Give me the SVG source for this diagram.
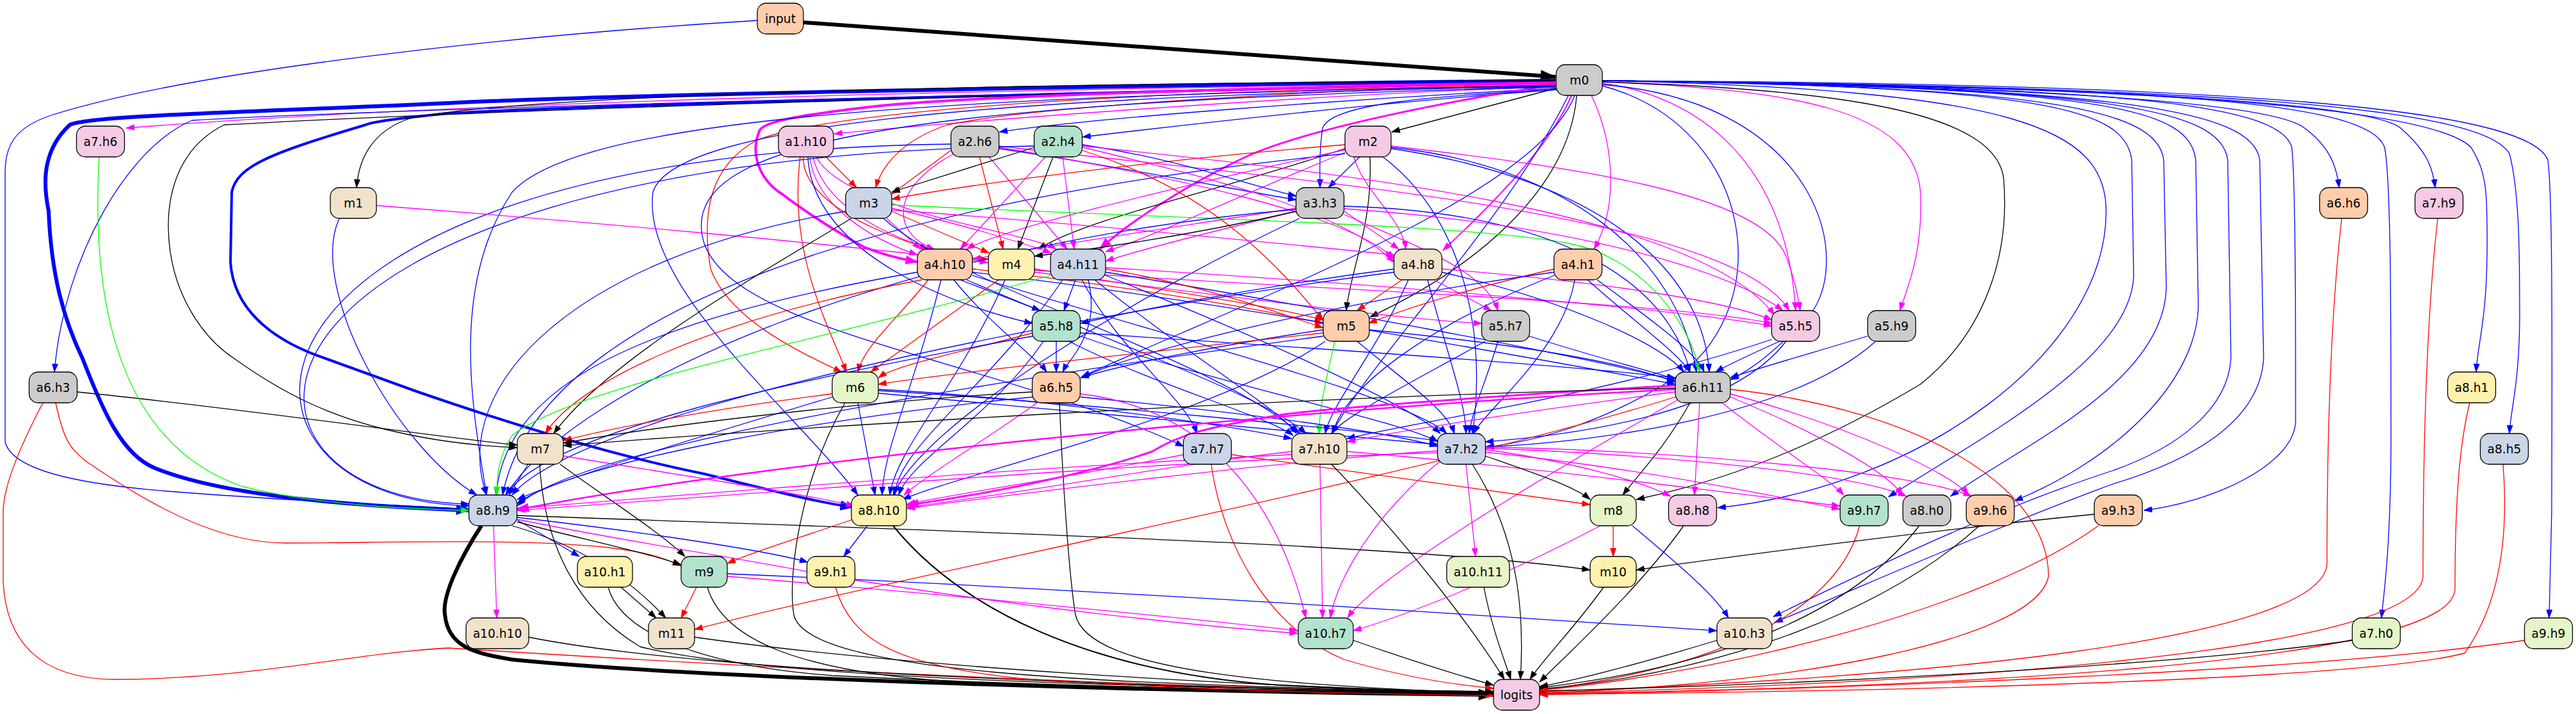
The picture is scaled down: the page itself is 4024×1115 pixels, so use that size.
<svg xmlns="http://www.w3.org/2000/svg" width="4024" height="1115" viewBox="0 0 4024 1115">
<defs>
<style>
.e path{fill:none;stroke-width:1.3}
.b{stroke:#0000ff;marker-end:url(#ab)}
.r{stroke:#ff0000;marker-end:url(#ar)}
.m{stroke:#ff00ff;marker-end:url(#am)}
.g{stroke:#00ff00;marker-end:url(#ag)}
.k{stroke:#000000;marker-end:url(#ak)}
.n rect{stroke:#000;stroke-width:1.3}
.n text{font-family:"DejaVu Sans","Liberation Sans",sans-serif;font-size:18.67px;text-anchor:middle;fill:#000}
.c1{fill:#b3e2cd}.c2{fill:#fdcdac}.c3{fill:#cbd5e8}.c4{fill:#f4cae4}.c5{fill:#e6f5c9}.c6{fill:#fff2ae}.c7{fill:#f1e2cc}.c8{fill:#cccccc}
</style>
<marker id="ab" viewBox="0 0 14 10" refX="13" refY="5" markerWidth="14" markerHeight="10" markerUnits="userSpaceOnUse" orient="auto"><path d="M0,0L14,5L0,10z" fill="#0000ff"/></marker>
<marker id="ar" viewBox="0 0 14 10" refX="13" refY="5" markerWidth="14" markerHeight="10" markerUnits="userSpaceOnUse" orient="auto"><path d="M0,0L14,5L0,10z" fill="#ff0000"/></marker>
<marker id="am" viewBox="0 0 14 10" refX="13" refY="5" markerWidth="14" markerHeight="10" markerUnits="userSpaceOnUse" orient="auto"><path d="M0,0L14,5L0,10z" fill="#ff00ff"/></marker>
<marker id="ag" viewBox="0 0 14 10" refX="13" refY="5" markerWidth="14" markerHeight="10" markerUnits="userSpaceOnUse" orient="auto"><path d="M0,0L14,5L0,10z" fill="#00ff00"/></marker>
<marker id="ak" viewBox="0 0 14 10" refX="13" refY="5" markerWidth="14" markerHeight="10" markerUnits="userSpaceOnUse" orient="auto"><path d="M0,0L14,5L0,10z" fill="#000000"/></marker>
<marker id="abL" viewBox="0 0 14 10" refX="13" refY="5" markerWidth="22" markerHeight="16" markerUnits="userSpaceOnUse" orient="auto"><path d="M0,0L14,5L0,10z" fill="#0000ff"/></marker>
<marker id="amL" viewBox="0 0 14 10" refX="13" refY="5" markerWidth="20" markerHeight="14" markerUnits="userSpaceOnUse" orient="auto"><path d="M0,0L14,5L0,10z" fill="#ff00ff"/></marker>
<marker id="akL" viewBox="0 0 14 10" refX="13" refY="5" markerWidth="26" markerHeight="18" markerUnits="userSpaceOnUse" orient="auto"><path d="M0,0L14,5L0,10z" fill="#000000"/></marker>
</defs>
<rect width="4024" height="1115" fill="#ffffff"/>
<g id="edges" class="e">
<!-- input -->
<path class="k" style="stroke-width:6;marker-end:url(#akL)" d="M1255,35 L2430,120"/>
<path class="b" d="M1183,32 C800,55 300,110 80,180 C20,200 8,230 8,270 L8,690 C20,740 150,760 300,770 C500,785 650,790 733,795"/>
<!-- m0 left bundle -->
<path class="b" style="stroke-width:6;marker-end:url(#abL)" d="M2430,126 C1600,135 900,150 700,161 C400,175 140,180 109,195 C60,240 70,300 76,330 C80,430 100,500 129,560 C160,640 190,710 242,731 C350,775 550,790 733,797"/>
<path class="b" style="stroke-width:4;marker-end:url(#abL)" d="M2430,128 C1500,150 900,165 700,177 C620,185 580,190 571,195 C420,240 370,260 362,300 L360,410 C365,480 420,530 509,560 L650,611 C850,680 1000,720 1100,740 C1200,765 1280,785 1333,792"/>
<path class="m" d="M2430,128 C1500,140 700,160 197,200"/>
<path class="k" d="M2430,126 C1500,130 800,150 640,185 C580,205 560,250 557,293"/>
<path class="b" d="M2430,130 C1600,145 600,170 300,188 C200,230 100,400 85,581"/>
<path class="k" d="M2430,130 C1600,145 700,175 350,195 C280,230 262,300 263,357 C265,460 320,530 366,560 C450,620 520,650 600,670 C680,690 760,697 808,699"/>
<path class="m" d="M2430,135 C2000,150 1500,190 1303,209"/>
<path class="b" d="M2432,138 C2100,155 1700,185 1561,206"/>
<path class="b" d="M2433,140 C2150,160 1850,195 1691,214"/>
<path class="r" d="M2430,133 C2000,140 1600,170 1480,195 C1420,215 1380,250 1368,293"/>
<path class="m" style="stroke-width:4;marker-end:url(#amL)" d="M2430,130 C2000,135 1500,150 1350,168 C1250,180 1190,190 1186,205 C1172,240 1185,280 1223,304 C1270,340 1330,375 1350,386 C1380,398 1410,405 1433,409"/>
<path class="m" style="stroke-width:3;marker-end:url(#amL)" d="M2430,132 C2250,160 2050,200 1950,243 C1850,290 1760,350 1718,389"/>
<path class="r" d="M2430,133 C1800,140 1300,170 1180,220 C1110,260 1095,330 1110,420 C1140,500 1250,550 1315,581"/>
<path class="b" d="M2430,136 C1400,160 1050,220 1100,380 C1150,520 1550,560 1849,697"/>
<path class="b" d="M2430,135 C1500,150 1050,200 1020,300 C1000,450 1250,650 1340,773"/>
<path class="b" d="M2430,134 C1400,150 900,190 800,300 C700,450 740,650 760,773"/>
<!-- m0 down -->
<path class="k" d="M2430,138 L2174,206"/>
<path class="b" d="M2430,140 C2250,150 2080,160 2066,200 C2060,240 2062,270 2062,293"/>
<path class="m" style="stroke-width:2" d="M2455,149 C2420,230 2330,320 2254,391"/>
<path class="m" d="M2486,149 C2520,220 2530,320 2490,389"/>
<path class="k" d="M2463,149 C2450,300 2300,420 2140,495"/>
<path class="b" d="M2460,149 C2400,300 2000,450 1690,588"/>
<path class="b" d="M2450,149 C2350,350 2150,550 2080,677"/>
<!-- m0 right -->
<path class="m" d="M2503,130 C2650,150 2790,250 2805,485"/>
<path class="m" d="M2503,128 C2800,140 2990,170 3000,300 C3005,400 2975,460 2968,485"/>
<path class="b" d="M2503,132 C2850,160 2900,420 2820,500 C2770,550 2740,575 2703,593"/>
<path class="b" d="M2503,134 C2750,200 2780,500 2600,600 C2500,660 2400,690 2321,698"/>
<path class="k" d="M2503,128 C2900,140 3120,180 3130,280 C3140,400 3100,520 3000,600 C2800,720 2650,760 2556,780"/>
<path class="b" d="M2503,126 C3150,140 3290,200 3290,330 C3290,550 3000,760 2683,793"/>
<path class="b" d="M2503,126 C3200,135 3320,170 3330,250 L3333,430 C3330,560 3100,680 2950,776"/>
<path class="b" d="M2503,126 C3200,135 3370,170 3380,250 L3384,450 C3380,600 3150,700 3047,775"/>
<path class="b" d="M2503,126 C3300,135 3420,170 3430,250 L3434,480 C3430,600 3300,720 3147,782"/>
<path class="b" d="M2503,126 C3300,135 3470,170 3480,250 L3485,560 C3480,640 3400,700 3300,735 C3100,800 2900,900 2770,963"/>
<path class="b" d="M2503,126 C3300,135 3520,170 3530,250 L3536,560 C3530,660 3420,720 3300,756 C3100,830 2900,920 2772,972"/>
<path class="b" d="M2503,126 C3300,135 3560,160 3580,230 C3586,280 3586,500 3586,660 C3580,730 3450,785 3349,797"/>
<path class="b" d="M2503,126 C3200,135 3550,160 3600,200 C3640,230 3650,260 3654,293"/>
<path class="b" d="M2503,126 C3400,135 3700,160 3725,230 C3735,280 3735,500 3735,700 C3734,850 3725,920 3720,965"/>
<path class="b" d="M2503,126 C3300,135 3700,160 3750,200 C3790,235 3800,260 3804,293"/>
<path class="b" d="M2503,126 C3400,135 3800,170 3860,230 C3885,270 3886,300 3885,400 C3884,500 3870,540 3868,581"/>
<path class="b" d="M2503,126 C3500,135 3880,170 3920,240 C3936,300 3936,400 3936,500 C3935,600 3922,640 3920,677"/>
<path class="b" d="M2503,126 C3500,130 3950,170 3980,250 C3987,300 3987,500 3986,800 L3982,965"/>
<!-- m2 -->
<path class="b" d="M2124,245 L2075,293"/>
<path class="r" d="M2101,226 C1800,250 1500,290 1393,311"/>
<path class="k" d="M2101,232 C1900,300 1700,340 1622,389"/>
<path class="m" d="M2101,238 C1950,300 1800,370 1727,393"/>
<path class="m" d="M2115,245 C2130,300 2190,340 2196,389"/>
<path class="k" d="M2140,245 C2145,350 2110,420 2103,485"/>
<path class="m" d="M2173,228 C2450,260 2750,300 2790,400 C2805,440 2810,470 2812,485"/>
<path class="b" d="M2173,230 C2450,260 2620,400 2650,581"/>
<path class="b" d="M2173,232 C2500,280 2660,420 2670,581"/>
<path class="b" d="M2160,245 C2300,350 2320,550 2300,677"/>
<path class="b" d="M2101,240 C1500,300 850,450 785,773"/>
<path class="m" d="M2101,234 C1800,300 1560,360 1510,389"/>
<!-- a1.h10 -->
<path class="r" d="M1290,245 L1338,293"/>
<path class="m" d="M1265,245 C1275,330 1380,380 1433,398"/>
<path class="m" d="M1270,245 C1290,330 1400,370 1450,389"/>
<path class="r" d="M1255,245 C1250,330 1450,400 1543,405"/>
<path class="m" d="M1275,245 C1320,330 1600,360 1650,389"/>
<path class="b" d="M1262,245 C1270,400 1500,480 1613,505"/>
<path class="r" d="M1250,245 C1230,400 1300,520 1322,581"/>
<!-- a2.h6 -->
<path class="r" d="M1485,235 L1393,303"/>
<path class="r" d="M1530,245 L1567,389"/>
<path class="m" d="M1545,245 L1667,389"/>
<path class="b" d="M1560,232 C1750,260 1950,300 2025,312"/>
<path class="b" d="M1485,225 C300,240 300,780 733,790"/>
<path class="m" d="M1490,240 C1380,300 1400,370 1460,389"/>
<path class="m" d="M1560,228 C2000,280 2700,330 2795,485"/>
<path class="m" d="M1560,230 C1800,270 2100,330 2178,404"/>
<!-- a2.h4 -->
<path class="k" d="M1616,230 L1393,300"/>
<path class="k" d="M1645,245 L1590,389"/>
<path class="m" d="M1660,245 L1678,389"/>
<path class="m" d="M1633,245 L1500,389"/>
<path class="b" d="M1691,226 C1850,250 1950,290 2025,306"/>
<path class="b" d="M1616,228 C300,250 300,780 733,787"/>
<path class="m" d="M1691,230 C1900,280 2100,330 2178,410"/>
<path class="m" d="M1691,228 C2100,270 2650,330 2772,492"/>
<path class="r" d="M1691,235 C1900,300 2000,420 2067,500"/>
<!-- m1 -->
<path class="m" d="M588,321 C900,345 1300,380 1543,410"/>
<path class="b" d="M530,341 C480,450 620,700 745,773"/>
<!-- m3 -->
<path class="m" d="M1385,341 L1438,389"/>
<path class="r" d="M1393,330 L1545,395"/>
<path class="m" d="M1393,325 C1500,350 1600,380 1642,395"/>
<path class="g" d="M1393,320 C1800,340 2300,350 2450,380 C2560,400 2640,500 2655,581"/>
<path class="k" d="M1330,341 C1200,420 950,560 865,677"/>
<path class="b" d="M1321,330 C900,400 700,600 760,773"/>
<path class="m" d="M1393,328 C1700,350 2000,380 2178,398"/>
<path class="b" d="M1380,341 C1500,450 1900,560 2030,677"/>
<!-- a3.h3 -->
<path class="m" d="M2100,330 L2185,389"/>
<path class="m" d="M2100,335 C2200,380 2320,420 2340,485"/>
<path class="m" d="M2025,330 C1900,360 1780,390 1727,408"/>
<path class="m" d="M2025,325 C1800,360 1600,390 1519,405"/>
<path class="k" d="M2025,330 C1850,370 1700,390 1616,400"/>
<path class="b" d="M2100,322 C2400,330 2600,420 2640,581"/>
<path class="m" d="M2100,326 C2450,350 2700,420 2785,485"/>
<path class="b" d="M2025,327 C1400,380 900,600 790,773"/>
<path class="b" d="M2030,341 C1800,450 1450,650 1395,773"/>
<!-- a4.h10 -->
<path class="b" d="M1500,437 L1625,485"/>
<path class="r" d="M1519,420 C1800,450 2000,490 2067,505"/>
<path class="r" d="M1450,437 C1400,500 1350,540 1340,581"/>
<path class="b" d="M1490,437 C1540,500 1620,560 1635,581"/>
<path class="b" d="M1519,425 C1900,470 2400,560 2617,600"/>
<path class="b" d="M1433,425 C1000,500 790,600 775,773"/>
<path class="b" d="M1510,437 C1700,520 1980,620 2040,677"/>
<path class="b" d="M1519,430 C1800,520 2200,620 2260,677"/>
<path class="b" d="M1470,437 C1430,600 1380,700 1378,773"/>
<path class="r" d="M1440,437 C1100,500 900,600 852,677"/>
<!-- m4 -->
<path class="r" d="M1560,437 L1360,581"/>
<path class="r" d="M1616,420 C1800,450 2000,480 2067,500"/>
<path class="m" d="M1616,425 C1900,460 2200,500 2315,505"/>
<path class="m" d="M1616,422 C2000,450 2600,470 2768,505"/>
<path class="b" d="M1570,437 C1500,600 1400,700 1390,773"/>
<!-- a4.h11 -->
<path class="b" d="M1680,437 L1662,485"/>
<path class="b" d="M1727,425 C2000,470 2500,560 2617,595"/>
<path class="g" d="M1641,430 C1300,530 900,600 800,680 C780,710 776,740 776,773"/>
<path class="b" d="M1700,437 C1720,520 1670,560 1660,581"/>
<path class="b" d="M1710,437 C1850,550 2000,640 2025,677"/>
<path class="b" d="M1727,430 C1950,520 2200,630 2250,677"/>
<path class="b" d="M1660,437 C1550,600 1400,700 1398,773"/>
<path class="r" d="M1727,420 C1900,450 2000,490 2067,512"/>
<path class="m" d="M1727,418 C2100,440 2600,480 2768,509"/>
<path class="b" d="M1690,437 C1750,550 1850,620 1870,677"/>
<!-- a4.h8 -->
<path class="r" d="M2190,437 L2120,485"/>
<path class="m" d="M2240,437 L2330,485"/>
<path class="b" d="M2178,420 C1950,450 1750,490 1688,505"/>
<path class="b" d="M2252,425 C2450,470 2600,540 2630,581"/>
<path class="b" d="M2200,437 C2150,550 2080,630 2070,677"/>
<path class="b" d="M2230,437 C2260,550 2290,630 2290,677"/>
<path class="m" d="M2252,420 C2500,440 2700,470 2768,500"/>
<path class="b" d="M2178,425 C1600,500 900,650 800,773"/>
<!-- a4.h1 -->
<path class="r" d="M2428,420 C2300,450 2200,480 2138,505"/>
<path class="b" d="M2480,437 C2550,500 2620,550 2640,581"/>
<path class="b" d="M2495,437 C2580,500 2650,550 2662,581"/>
<path class="b" d="M2460,437 C2440,550 2320,640 2302,677"/>
<path class="b" d="M2428,425 C2100,470 1800,540 1688,590"/>
<path class="b" d="M2428,430 C2250,500 2100,600 2082,677"/>
<!-- a5.h8 -->
<path class="b" d="M1650,533 L1650,581"/>
<path class="r" d="M1613,520 C1500,550 1400,570 1372,590"/>
<path class="b" d="M1630,533 C1550,650 1420,720 1404,773"/>
<path class="b" d="M1688,525 C1900,600 2200,660 2246,690"/>
<path class="b" d="M1688,520 C2000,540 2450,570 2617,590"/>
<path class="b" d="M1613,525 C1200,600 850,680 790,773"/>
<path class="b" d="M1670,533 C1800,600 1980,650 2020,680"/>
<!-- m5 -->
<path class="g" d="M2085,533 C2070,600 2060,640 2061,677"/>
<path class="b" d="M2138,515 C2400,540 2550,570 2617,597"/>
<path class="b" d="M2067,525 C1500,600 900,700 808,790"/>
<path class="b" d="M2067,515 C1900,540 1750,570 1688,590"/>
<path class="r" d="M2067,520 C1800,550 1500,580 1372,600"/>
<path class="b" d="M2070,533 C1900,650 1500,740 1410,780"/>
<path class="b" d="M2120,533 C2200,600 2260,640 2272,677"/>
<!-- a5.h7, a5.h5, a5.h9 -->
<path class="b" d="M2389,525 C2500,560 2580,580 2617,592"/>
<path class="b" d="M2340,533 C2320,600 2300,640 2295,677"/>
<path class="b" d="M2320,533 C2200,600 2100,650 2080,677"/>
<path class="b" d="M2780,533 C2720,560 2690,575 2680,581"/>
<path class="b" d="M2790,533 C2700,650 2450,680 2320,690"/>
<path class="b" d="M2768,530 C2500,620 2200,660 2104,685"/>
<path class="b" d="M2917,525 C2800,560 2730,580 2703,590"/>
<path class="b" d="M2930,533 C2800,650 2500,690 2320,698"/>
<!-- a6.h3 -->
<path class="k" d="M120,612 C400,640 700,685 808,695"/>
<path class="r" d="M87,629 C100,690 110,700 134,720 C250,800 350,848 446,848 C600,848 800,840 950,855 C1010,862 1040,872 1064,884"/>
<path class="r" d="M67,629 C30,700 5,760 5,800 L5,910 C10,1000 60,1060 179,1061 C400,1060 550,1020 700,1012 C1000,1030 1600,1070 2333,1082"/>
<!-- m6 -->
<path class="r" d="M1300,615 C1100,640 950,670 880,688"/>
<path class="b" d="M1300,620 C1100,680 900,740 808,780"/>
<path class="b" d="M1340,629 L1367,773"/>
<path class="b" d="M1372,610 C1700,630 2100,670 2246,688"/>
<path class="b" d="M1372,614 C1700,645 2100,682 2246,694"/>
<path class="k" d="M1320,629 C1250,750 1230,900 1240,960 C1260,1050 1700,1070 2333,1080"/>
<path class="b" d="M1372,608 C1600,620 1900,660 2018,685"/>
<!-- a6.h5 -->
<path class="m" d="M1620,629 C1550,680 1450,740 1412,773"/>
<path class="b" d="M1688,620 C1900,640 2150,670 2246,697"/>
<path class="k" d="M1655,629 C1660,750 1670,900 1680,960 C1700,1050 2000,1070 2333,1083"/>
<path class="m" d="M1688,615 C1900,640 2000,800 2040,965"/>
<path class="b" d="M1613,620 C1300,650 900,720 808,786"/>
<path class="k" d="M1613,612 C1300,630 1000,670 880,692"/>
<!-- a6.h11 -->
<path class="m" style="stroke-width:3;marker-end:url(#amL)" d="M2617,602 C2300,620 2050,640 2000,648 C1880,668 1840,680 1800,705 C1700,740 1550,770 1417,789"/>
<path class="m" style="stroke-width:2.5;marker-end:url(#amL)" d="M2617,608 C2000,640 1200,720 808,796"/>
<path class="m" d="M2617,612 C2400,640 2200,670 2104,690"/>
<path class="k" d="M2640,629 C2600,700 2560,740 2535,773"/>
<path class="m" d="M2655,629 L2647,773"/>
<path class="m" d="M2690,629 C2780,700 2860,750 2880,773"/>
<path class="m" d="M2703,620 C2850,680 2950,740 2972,773"/>
<path class="m" d="M2703,615 C2900,670 3050,740 3075,773"/>
<path class="m" d="M2620,625 C2400,750 2150,900 2105,965"/>
<path class="r" d="M2617,620 C2200,750 1400,900 1085,983"/>
<path class="r" d="M2703,608 C3000,640 3200,760 3200,900 C3180,1000 2800,1070 2405,1082"/>
<path class="k" d="M2617,606 C2000,620 1200,670 880,696"/>
<!-- top-right heads to logits -->
<path class="r" d="M3658,341 C3640,500 3635,700 3635,880 C3630,1000 3000,1060 2405,1080"/>
<path class="r" d="M3808,341 C3790,500 3785,700 3785,900 C3780,1020 3000,1070 2405,1082"/>
<path class="r" d="M3858,629 C3840,700 3835,800 3835,920 C3830,1040 3000,1075 2405,1083"/>
<path class="r" d="M3910,725 C3920,850 3900,950 3850,1020 C3700,1060 3000,1080 2405,1084"/>
<path class="k" d="M3675,1000 C3400,1040 2800,1070 2405,1079"/>
<path class="r" d="M3944,1000 C3600,1050 2900,1075 2405,1085"/>
<!-- m7 -->
<path class="b" d="M825,725 L795,773"/>
<path class="k" d="M875,725 C950,780 1030,830 1070,869"/>
<path class="m" d="M880,712 C1050,740 1250,770 1335,790"/>
<path class="k" d="M843,725 C850,850 900,950 1000,1010 C1200,1060 1800,1075 2333,1080"/>
<!-- a7.h7 -->
<path class="m" d="M1849,710 C1700,740 1500,770 1417,787"/>
<path class="r" d="M1892,725 C1910,850 1980,980 2100,1030 C2200,1060 2280,1070 2333,1075"/>
<path class="r" d="M1924,710 C2150,740 2350,770 2484,788"/>
<!-- a7.h10 -->
<path class="m" d="M2018,705 C1800,730 1600,770 1417,792"/>
<path class="m" d="M2018,710 C1600,730 1100,770 808,794"/>
<path class="m" d="M2062,725 L2066,965"/>
<path class="k" d="M2080,725 C2200,850 2300,980 2350,1061"/>
<path class="m" d="M2104,705 C2400,730 2700,770 2874,790"/>
<!-- a7.h2 -->
<path class="k" d="M2320,712 C2400,740 2460,760 2484,780"/>
<path class="m" d="M2320,702 C2450,720 2560,750 2610,775"/>
<path class="m" d="M2320,706 C2550,730 2750,770 2874,795"/>
<path class="m" d="M2320,700 C2600,710 2900,740 2978,775"/>
<path class="m" d="M2290,725 L2305,869"/>
<path class="m" d="M2250,720 C2150,800 2090,900 2078,965"/>
<path class="m" d="M2246,704 C2000,720 1600,770 1417,794"/>
<path class="m" d="M2246,707 C1800,720 1200,770 808,797"/>
<path class="k" d="M2300,725 C2380,850 2380,980 2375,1061"/>
<path class="m" d="M2320,698 C2650,705 3000,740 3080,775"/>
<!-- a8.h9 -->
<path class="k" style="stroke-width:6;marker-end:url(#akL)" d="M752,821 C720,870 690,930 695,960 C700,1010 740,1020 800,1030 C1100,1060 1800,1080 2333,1085"/>
<path class="b" d="M808,812 L905,869"/>
<path class="k" d="M808,815 C900,840 1000,860 1064,882"/>
<path class="m" d="M771,821 L776,965"/>
<path class="k" d="M800,821 C900,850 980,900 1040,965"/>
<path class="b" d="M808,808 C1000,830 1200,860 1262,878"/>
<path class="k" d="M808,805 C1500,830 2200,850 2484,890"/>
<path class="m" d="M808,811 C1000,850 1150,870 1300,900 C1600,950 1900,980 2027,989"/>
<!-- a8.h10 -->
<path class="k" style="stroke-width:2" d="M1395,821 C1500,950 1700,1050 2000,1070 C2200,1080 2300,1083 2333,1083"/>
<path class="b" d="M1355,821 L1318,869"/>
<path class="r" d="M1335,810 C1250,840 1180,860 1136,880"/>
<!-- m8 -->
<path class="r" d="M2520,821 L2520,869"/>
<path class="m" d="M2500,821 C2350,900 2200,960 2114,985"/>
<path class="b" d="M2550,821 C2620,880 2680,930 2700,965"/>
<!-- row 8 to logits -->
<path class="k" d="M2630,821 C2560,920 2450,1020 2405,1065"/>
<path class="r" d="M2905,821 C2870,950 2700,1040 2405,1078"/>
<path class="k" d="M2998,821 C2900,950 2700,1040 2405,1074"/>
<path class="k" d="M3092,821 C2950,950 2700,1050 2405,1076"/>
<path class="k" d="M3272,803 C3000,830 2700,870 2556,890"/>
<path class="r" d="M3278,821 C3100,950 2700,1050 2405,1078"/>
<!-- row 9 -->
<path class="k" d="M970,917 L1025,965"/>
<path class="k" d="M950,917 C970,990 1100,1040 1300,1055 C1700,1075 2100,1080 2333,1082"/>
<path class="r" d="M1088,917 L1064,965"/>
<path class="k" d="M1105,917 C1130,1000 1250,1050 1500,1065 C1900,1078 2200,1080 2333,1080"/>
<path class="m" d="M1136,900 C1500,930 1900,970 2027,985"/>
<path class="b" d="M1136,896 C1700,920 2300,960 2682,985"/>
<path class="r" d="M1305,917 C1330,1000 1400,1040 1600,1060 C1900,1080 2200,1085 2333,1086"/>
<path class="k" d="M2318,917 C2330,980 2350,1030 2360,1061"/>
<path class="k" d="M2505,917 C2460,980 2410,1030 2390,1061"/>
<!-- row 10 -->
<path class="k" d="M826,995 C1100,1050 1800,1075 2333,1081"/>
<path class="k" d="M1085,995 C1400,1040 1900,1070 2333,1082"/>
<path class="k" d="M2114,1000 C2200,1030 2280,1055 2333,1070"/>
<path class="k" d="M2682,1000 C2550,1040 2450,1065 2405,1072"/>
<!-- a7.h6 -->
<path class="g" d="M155,245 C140,500 200,700 380,760 C500,790 650,795 733,797"/>
</g>
<g id="nodes">
<g id="n_input" class="n"><rect class="c2" x="1183" y="5" width="72" height="48" rx="14"/><text x="1219" y="35.5">input</text></g>
<g id="n_m0" class="n"><rect class="c8" x="2431" y="101" width="72" height="48" rx="14"/><text x="2467" y="131.5">m0</text></g>
<g id="n_a7_h6" class="n"><rect class="c4" x="119.5" y="197" width="75" height="48" rx="14"/><text x="157" y="227.5">a7.h6</text></g>
<g id="n_a1_h10" class="n"><rect class="c4" x="1216" y="197" width="86" height="48" rx="14"/><text x="1259" y="227.5">a1.h10</text></g>
<g id="n_a2_h6" class="n"><rect class="c8" x="1485.5" y="197" width="75" height="48" rx="14"/><text x="1523" y="227.5">a2.h6</text></g>
<g id="n_a2_h4" class="n"><rect class="c1" x="1615.5" y="197" width="75" height="48" rx="14"/><text x="1653" y="227.5">a2.h4</text></g>
<g id="n_m2" class="n"><rect class="c4" x="2101" y="197" width="72" height="48" rx="14"/><text x="2137" y="227.5">m2</text></g>
<g id="n_m1" class="n"><rect class="c7" x="516" y="293" width="72" height="48" rx="14"/><text x="552" y="323.5">m1</text></g>
<g id="n_m3" class="n"><rect class="c3" x="1321" y="293" width="72" height="48" rx="14"/><text x="1357" y="323.5">m3</text></g>
<g id="n_a3_h3" class="n"><rect class="c8" x="2024.5" y="293" width="75" height="48" rx="14"/><text x="2062" y="323.5">a3.h3</text></g>
<g id="n_a6_h6" class="n"><rect class="c2" x="3623.5" y="293" width="75" height="48" rx="14"/><text x="3661" y="323.5">a6.h6</text></g>
<g id="n_a7_h9" class="n"><rect class="c4" x="3772.5" y="293" width="75" height="48" rx="14"/><text x="3810" y="323.5">a7.h9</text></g>
<g id="n_a4_h10" class="n"><rect class="c2" x="1433" y="389" width="86" height="48" rx="14"/><text x="1476" y="419.5">a4.h10</text></g>
<g id="n_m4" class="n"><rect class="c6" x="1544" y="389" width="72" height="48" rx="14"/><text x="1580" y="419.5">m4</text></g>
<g id="n_a4_h11" class="n"><rect class="c3" x="1641" y="389" width="86" height="48" rx="14"/><text x="1684" y="419.5">a4.h11</text></g>
<g id="n_a4_h8" class="n"><rect class="c7" x="2177.5" y="389" width="75" height="48" rx="14"/><text x="2215" y="419.5">a4.h8</text></g>
<g id="n_a4_h1" class="n"><rect class="c2" x="2427.5" y="389" width="75" height="48" rx="14"/><text x="2465" y="419.5">a4.h1</text></g>
<g id="n_a5_h8" class="n"><rect class="c1" x="1612.5" y="485" width="75" height="48" rx="14"/><text x="1650" y="515.5">a5.h8</text></g>
<g id="n_m5" class="n"><rect class="c2" x="2067" y="485" width="72" height="48" rx="14"/><text x="2103" y="515.5">m5</text></g>
<g id="n_a5_h7" class="n"><rect class="c8" x="2314.5" y="485" width="75" height="48" rx="14"/><text x="2352" y="515.5">a5.h7</text></g>
<g id="n_a5_h5" class="n"><rect class="c4" x="2767.5" y="485" width="75" height="48" rx="14"/><text x="2805" y="515.5">a5.h5</text></g>
<g id="n_a5_h9" class="n"><rect class="c8" x="2917.5" y="485" width="75" height="48" rx="14"/><text x="2955" y="515.5">a5.h9</text></g>
<g id="n_a6_h3" class="n"><rect class="c8" x="45.5" y="581" width="75" height="48" rx="14"/><text x="83" y="611.5">a6.h3</text></g>
<g id="n_m6" class="n"><rect class="c5" x="1300" y="581" width="72" height="48" rx="14"/><text x="1336" y="611.5">m6</text></g>
<g id="n_a6_h5" class="n"><rect class="c2" x="1612.5" y="581" width="75" height="48" rx="14"/><text x="1650" y="611.5">a6.h5</text></g>
<g id="n_a6_h11" class="n"><rect class="c8" x="2617" y="581" width="86" height="48" rx="14"/><text x="2660" y="611.5">a6.h11</text></g>
<g id="n_a8_h1" class="n"><rect class="c6" x="3823.5" y="581" width="75" height="48" rx="14"/><text x="3861" y="611.5">a8.h1</text></g>
<g id="n_m7" class="n"><rect class="c7" x="808" y="677" width="72" height="48" rx="14"/><text x="844" y="707.5">m7</text></g>
<g id="n_a7_h7" class="n"><rect class="c3" x="1848.5" y="677" width="75" height="48" rx="14"/><text x="1886" y="707.5">a7.h7</text></g>
<g id="n_a7_h10" class="n"><rect class="c7" x="2018" y="677" width="86" height="48" rx="14"/><text x="2061" y="707.5">a7.h10</text></g>
<g id="n_a7_h2" class="n"><rect class="c3" x="2245.5" y="677" width="75" height="48" rx="14"/><text x="2283" y="707.5">a7.h2</text></g>
<g id="n_a8_h5" class="n"><rect class="c3" x="3874.5" y="677" width="75" height="48" rx="14"/><text x="3912" y="707.5">a8.h5</text></g>
<g id="n_a8_h9" class="n"><rect class="c3" x="732.5" y="773" width="75" height="48" rx="14"/><text x="770" y="803.5">a8.h9</text></g>
<g id="n_a8_h10" class="n"><rect class="c6" x="1330" y="773" width="86" height="48" rx="14"/><text x="1373" y="803.5">a8.h10</text></g>
<g id="n_m8" class="n"><rect class="c5" x="2484" y="773" width="72" height="48" rx="14"/><text x="2520" y="803.5">m8</text></g>
<g id="n_a8_h8" class="n"><rect class="c4" x="2606.5" y="773" width="75" height="48" rx="14"/><text x="2644" y="803.5">a8.h8</text></g>
<g id="n_a9_h7" class="n"><rect class="c1" x="2874.5" y="773" width="75" height="48" rx="14"/><text x="2912" y="803.5">a9.h7</text></g>
<g id="n_a8_h0" class="n"><rect class="c8" x="2972.5" y="773" width="75" height="48" rx="14"/><text x="3010" y="803.5">a8.h0</text></g>
<g id="n_a9_h6" class="n"><rect class="c2" x="3071.5" y="773" width="75" height="48" rx="14"/><text x="3109" y="803.5">a9.h6</text></g>
<g id="n_a9_h3" class="n"><rect class="c2" x="3271.5" y="773" width="75" height="48" rx="14"/><text x="3309" y="803.5">a9.h3</text></g>
<g id="n_a10_h1" class="n"><rect class="c6" x="902" y="869" width="86" height="48" rx="14"/><text x="945" y="899.5">a10.h1</text></g>
<g id="n_m9" class="n"><rect class="c1" x="1064" y="869" width="72" height="48" rx="14"/><text x="1100" y="899.5">m9</text></g>
<g id="n_a9_h1" class="n"><rect class="c6" x="1260.5" y="869" width="75" height="48" rx="14"/><text x="1298" y="899.5">a9.h1</text></g>
<g id="n_a10_h11" class="n"><rect class="c5" x="2260" y="869" width="98" height="48" rx="14"/><text x="2309" y="899.5">a10.h11</text></g>
<g id="n_m10" class="n"><rect class="c6" x="2484" y="869" width="72" height="48" rx="14"/><text x="2520" y="899.5">m10</text></g>
<g id="n_a10_h10" class="n"><rect class="c7" x="728" y="965" width="98" height="48" rx="14"/><text x="777" y="995.5">a10.h10</text></g>
<g id="n_m11" class="n"><rect class="c7" x="1013" y="965" width="72" height="48" rx="14"/><text x="1049" y="995.5">m11</text></g>
<g id="n_a10_h7" class="n"><rect class="c1" x="2028" y="965" width="86" height="48" rx="14"/><text x="2071" y="995.5">a10.h7</text></g>
<g id="n_a10_h3" class="n"><rect class="c7" x="2682" y="965" width="86" height="48" rx="14"/><text x="2725" y="995.5">a10.h3</text></g>
<g id="n_a7_h0" class="n"><rect class="c5" x="3674.5" y="965" width="75" height="48" rx="14"/><text x="3712" y="995.5">a7.h0</text></g>
<g id="n_a9_h9" class="n"><rect class="c5" x="3943.5" y="965" width="75" height="48" rx="14"/><text x="3981" y="995.5">a9.h9</text></g>
<g id="n_logits" class="n"><rect class="c4" x="2333" y="1061" width="72" height="48" rx="14"/><text x="2369" y="1091.5">logits</text></g>
</g>
</svg>
